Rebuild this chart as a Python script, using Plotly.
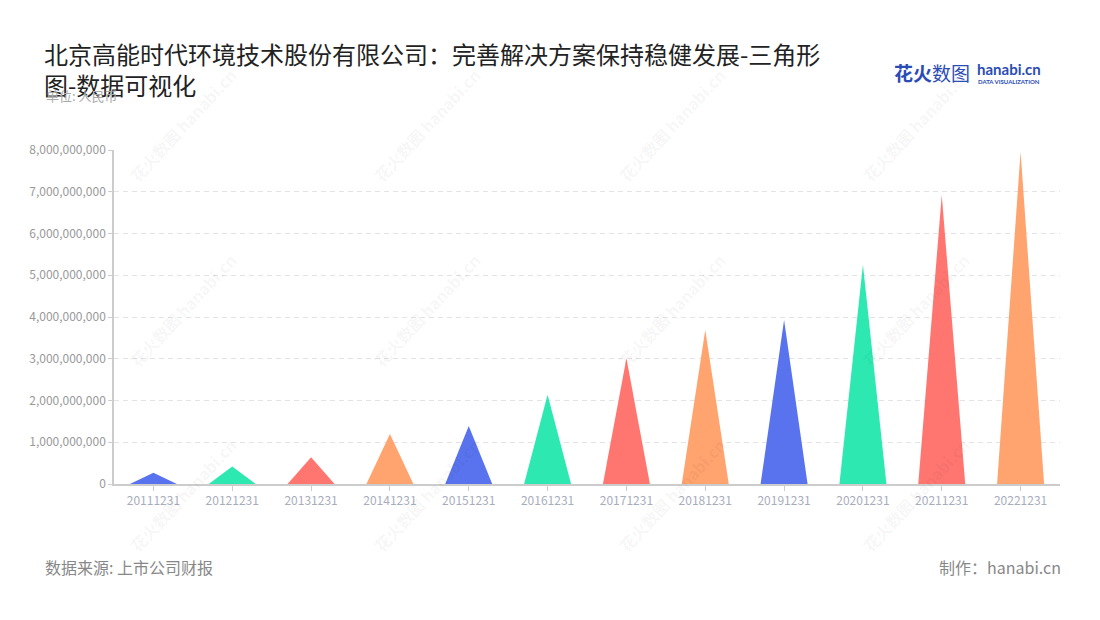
import plotly.graph_objects as go

categories = ["20111231", "20121231", "20131231", "20141231", "20151231", "20161231",
              "20171231", "20181231", "20191231", "20201231", "20211231", "20221231"]
values = [0.27e9, 0.42e9, 0.64e9, 1.20e9, 1.39e9, 2.14e9,
          3.01e9, 3.69e9, 3.93e9, 5.25e9, 6.92e9, 7.96e9]
palette = ["#5873ED", "#2EE8B1", "#FF7670", "#FFA36F"]
y_ticks = [0, 1e9, 2e9, 3e9, 4e9, 5e9, 6e9, 7e9, 8e9]

FONT = "Noto Sans CJK SC"
half = 0.298

W, H = 1100, 620
ML, MR, MT, MB = 106, 48, 142, 144
PW, PH = W - ML - MR, H - MT - MB


def px(x):
    return (x - ML) / PW


def py(y):
    return (H - MB - y) / PH


fig = go.Figure()
for i, (cat, v) in enumerate(zip(categories, values)):
    fig.add_trace(go.Scatter(
        x=[i - half, i, i + half, i - half],
        y=[0, v, 0, 0],
        mode="lines",
        fill="toself",
        fillcolor=palette[i % len(palette)],
        line=dict(width=0, color=palette[i % len(palette)]),
        name=cat,
        hoverinfo="text",
        text=f"{cat}: {v:,.0f}",
        showlegend=False,
    ))

# watermarks
for wx in [175, 419, 664, 908]:
    for wy in [117, 302, 487]:
        fig.add_annotation(xref="paper", yref="paper", x=px(wx), y=py(wy),
                           xanchor="center", yanchor="middle",
                           text="<b>花火数图 hanabi.cn</b>", showarrow=False, textangle=-47,
                           font=dict(family=FONT, size=16, color="rgba(0,0,0,0.055)"))

fig.update_layout(
    width=W, height=H,
    paper_bgcolor="white", plot_bgcolor="white",
    margin=dict(l=ML, r=MR, t=MT, b=MB),
    font=dict(family=FONT, color="#999"),
    title=dict(
        text="北京高能时代环境技术股份有限公司：完善解决方案保持稳健发展-三角形<br>图-数据可视化",
        x=36 / W, xanchor="left", y=0.91, yanchor="top",
        font=dict(family=FONT, size=24, color="#222"),
    ),
    xaxis=dict(
        range=[-0.5, 11.5],
        tickvals=list(range(len(categories))),
        ticktext=categories,
        showgrid=False, zeroline=False,
        showline=True, linecolor="#cccccc", linewidth=1.5,
        ticks="outside", ticklen=5, tickcolor="#cccccc",
        tickfont=dict(family=FONT, size=12, color="#A8ADBC"),
    ),
    yaxis=dict(
        range=[0, 8e9],
        tickvals=y_ticks,
        tickformat=",",
        showgrid=True, gridcolor="#e3e3e3", griddash="5px,4px", gridwidth=1,
        zeroline=False,
        showline=True, linecolor="#cccccc", linewidth=1.5,
        ticks="outside", ticklen=4, tickcolor="#cccccc",
        tickfont=dict(family=FONT, size=12, color="#999"),
    ),
)

fig.add_annotation(xref="paper", yref="paper", x=px(36), y=py(88), xanchor="left", yanchor="middle",
                   text="单位: 人民币", showarrow=False,
                   font=dict(family=FONT, size=13, color="#aaa"))
fig.add_annotation(xref="paper", yref="paper", x=px(35), y=py(559), xanchor="left", yanchor="middle",
                   text="数据来源: 上市公司财报", showarrow=False,
                   font=dict(family=FONT, size=16, color="#888"))
fig.add_annotation(xref="paper", yref="paper", x=px(1055), y=py(559), xanchor="right", yanchor="middle",
                   text="制作：hanabi.cn", showarrow=False,
                   font=dict(family=FONT, size=16, color="#888"))
# logo
fig.add_annotation(xref="paper", yref="paper", x=px(884), y=py(64), xanchor="left", yanchor="middle",
                   text="<b>花火</b>数图", showarrow=False,
                   font=dict(family=FONT, size=19, color="#2B4CB5"))
fig.add_annotation(xref="paper", yref="paper", x=px(967), y=py(61), xanchor="left", yanchor="middle",
                   text="<b>hanabi.cn</b>", showarrow=False,
                   font=dict(family="Lato", size=15, color="#2B4CB5"))
fig.add_annotation(xref="paper", yref="paper", x=px(968), y=py(73), xanchor="left", yanchor="middle",
                   text="<b>DATA VISUALIZATION</b>", showarrow=False,
                   font=dict(family="Lato", size=6, color="#2B4CB5"))

fig.write_html("out.html")
